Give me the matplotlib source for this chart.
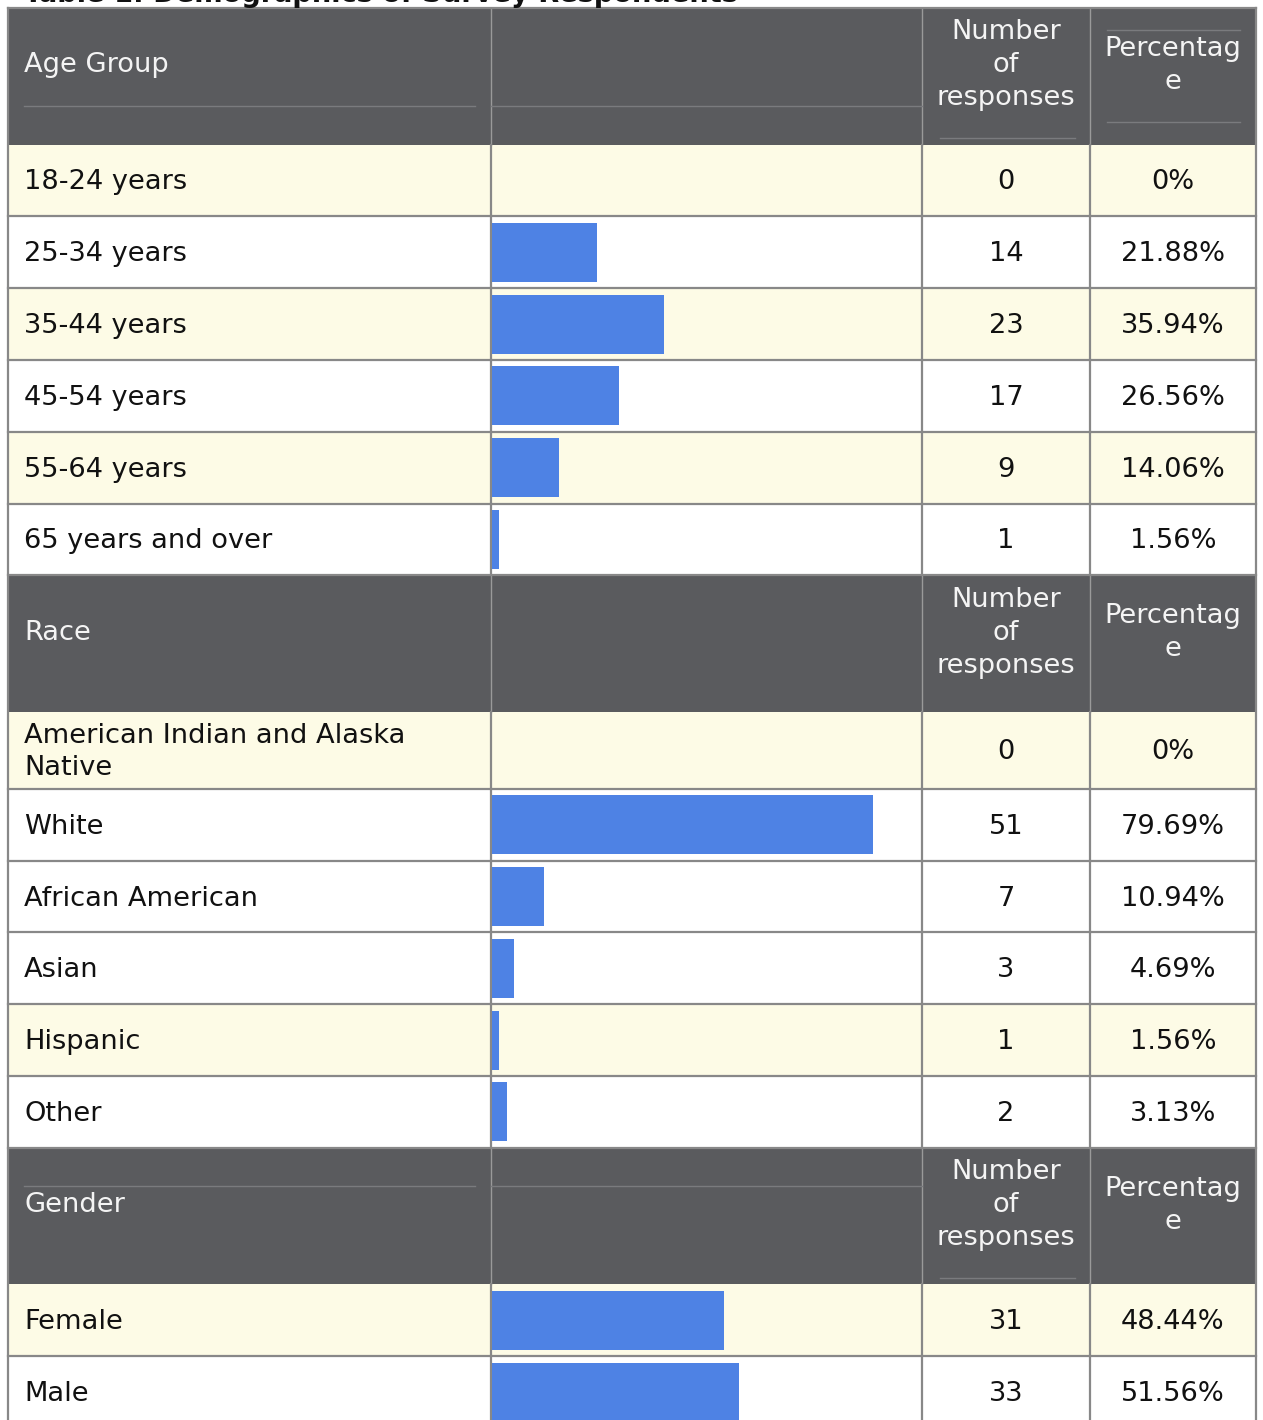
import numpy as np
import matplotlib.pyplot as plt

# table data, one block per section
age_labels = ['18-24 years', '25-34 years', '35-44 years', '45-54 years',
              '55-64 years', '65 years and over']
age_counts = [0, 14, 23, 17, 9, 1]
age_pct = ['0%', '21.88%', '35.94%', '26.56%', '14.06%', '1.56%']

race_labels = ['American Indian and Alaska\nNative', 'White', 'African American',
               'Asian', 'Hispanic', 'Other']
race_counts = [0, 51, 7, 3, 1, 2]
race_pct = ['0%', '79.69%', '10.94%', '4.69%', '1.56%', '3.13%']

gender_labels = ['Female', 'Male']
gender_counts = [31, 33]
gender_pct = ['48.44%', '51.56%']

sections = [
    ('Age Group', age_labels, age_counts, age_pct, [1, 0, 1, 0, 1, 0]),
    ('Race', race_labels, race_counts, race_pct, [1, 0, 0, 0, 1, 0]),
    ('Gender', gender_labels, gender_counts, gender_pct, [1, 0]),
]

W, H = 1263, 1420
dark = '#5a5b5e'
yellow = '#fdfbe6'
bar_col = '#4e82e4'
grid = '#888888'
fs = 19.6

plt.rcParams['font.family'] = ['DejaVu Sans']
fig = plt.figure(figsize=(W / 100, H / 100), dpi=100)
ax = fig.add_axes([0, 0, 1, 1])
ax.set_xlim(0, W)
ax.set_ylim(H, 0)
ax.axis('off')

xL, x1, x2, x3, xR = 8, 491, 922, 1090, 1256
head_h = 136.5
row_h = 71.8
px_per = 7.47

ax.text(24, 1.5, 'Table 1: Demographics of Survey Respondents', fontsize=fs,
        fontweight='bold', color='#111111', va='baseline', ha='left')

y = 8
hlines = []
for k, (title, labels, counts, pct, stripes) in enumerate(sections):
    # header block
    ax.add_patch(plt.Rectangle((xL, y), xR - xL, head_h, color=dark, lw=0))
    yc = y + head_h / 2 - 11
    ax.text(24, yc, title, fontsize=fs, color='#f4f4f4', va='center', ha='left')
    ax.text((x2 + x3) / 2, yc, 'Number\nof\nresponses', fontsize=fs, color='#f4f4f4',
            va='center', ha='center', linespacing=1.35)
    ax.text((x3 + xR) / 2, yc, 'Percentag\ne', fontsize=fs, color='#f4f4f4',
            va='center', ha='center', linespacing=1.35)
    for xv in (x1, x2, x3):
        ax.plot([xv, xv], [y, y + head_h], color='#9a9a9a', lw=1)
    # faint inner rules of the header cells
    if k == 0:
        ax.plot([24, 475], [y + 98, y + 98], color='#7a7b7e', lw=1)
        ax.plot([x1, x2], [y + 98, y + 98], color='#7a7b7e', lw=1)
        ax.plot([940, 1075], [y + 130, y + 130], color='#7a7b7e', lw=1)
        ax.plot([1107, 1240], [y + 22, y + 22], color='#7a7b7e', lw=1)
        ax.plot([1107, 1240], [y + 114, y + 114], color='#7a7b7e', lw=1)
    if k == 2:
        ax.plot([24, 475], [y + 38, y + 38], color='#7a7b7e', lw=1)
        ax.plot([x1, x2], [y + 38, y + 38], color='#7a7b7e', lw=1)
        ax.plot([940, 1075], [y + 130, y + 130], color='#7a7b7e', lw=1)
    y += head_h

    centers = []
    for i, lab in enumerate(labels):
        h = 77 if '\n' in lab else row_h
        if stripes[i]:
            ax.add_patch(plt.Rectangle((xL, y), xR - xL, h, color=yellow, lw=0))
        centers.append(y + h / 2)
        ty = y + h / 2 + 2
        ax.text(24, ty, lab, fontsize=fs, color='#111111', va='center',
                ha='left', linespacing=1.3)
        ax.text((x2 + x3) / 2, ty, str(counts[i]), fontsize=fs,
                color='#111111', va='center', ha='center')
        ax.text((x3 + xR) / 2, ty, pct[i], fontsize=fs, color='#111111',
                va='center', ha='center')
        for xv in (x1, x2, x3):
            ax.plot([xv, xv], [y, y + h], color=grid, lw=1.6)
        y += h
        hlines.append(y)
    ax.barh(centers, np.array(counts) * px_per, height=59, left=x1 + 1,
            color=bar_col, zorder=3)

for yv in hlines:
    ax.plot([xL, xR], [yv, yv], color=grid, lw=1.6, zorder=4)
ax.plot([xL, xR], [8, 8], color=grid, lw=1.6)
ax.plot([xL, xL], [8, H], color=grid, lw=1.6)
ax.plot([xR, xR], [8, H], color=grid, lw=1.6)

fig.savefig('out.png', dpi=100)
